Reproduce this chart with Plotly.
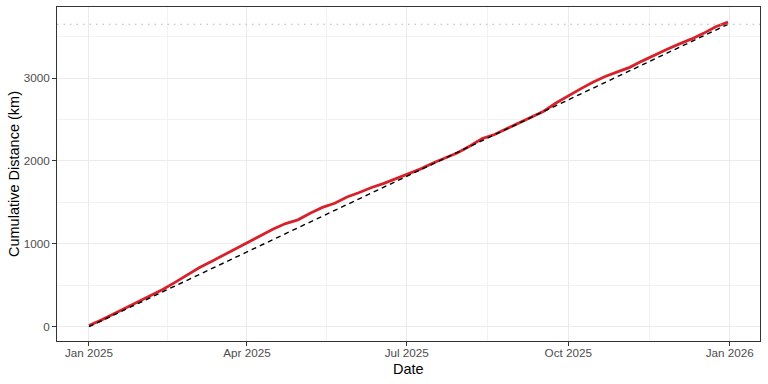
import plotly.graph_objects as go
import pandas as pd

# ---- data ----
day_offsets = [0, 7, 14, 21, 28, 35, 42, 49, 56, 63, 70, 77, 84, 91, 98, 105, 112, 119,
               126, 133, 140, 147, 154, 161, 168, 175, 182, 189, 196, 203, 210, 217,
               224, 231, 238, 245, 252, 259, 266, 273, 280, 287, 294, 301, 308, 315,
               322, 329, 336, 343, 350, 357, 364]
cumulative_km = [15, 80, 155, 230, 295, 375, 450, 535, 625, 715, 790, 870, 950, 1030,
                 1100, 1180, 1245, 1290, 1370, 1440, 1490, 1565, 1620, 1680, 1730, 1790,
                 1845, 1905, 1975, 2035, 2100, 2180, 2270, 2320, 2390, 2460, 2530, 2600,
                 2700, 2790, 2870, 2950, 3020, 3075, 3130, 3205, 3280, 3345, 3410, 3470,
                 3540, 3620, 3675]
target_dates = ["2025-01-01", "2025-12-31"]
target_km = [0, 3650]
goal_km = 3650

x_tick_vals = ["2025-01-01", "2025-04-01", "2025-07-01", "2025-10-01", "2026-01-01"]
x_tick_text = ["Jan 2025", "Apr 2025", "Jul 2025", "Oct 2025", "Jan 2026"]
x_minor_vals = ["2025-02-15", "2025-05-16 12:00", "2025-08-16", "2025-11-16"]
y_tick_vals = [0, 1000, 2000, 3000]
y_minor_vals = [500, 1500, 2500, 3500]

dates = pd.Timestamp("2025-01-01") + pd.to_timedelta(day_offsets, unit="D")

FONT = "Liberation Sans, Arial, Helvetica, sans-serif"

fig = go.Figure()
fig.add_trace(go.Scatter(x=dates, y=cumulative_km, mode="lines",
                         line=dict(color="#d7222c", width=2.8), showlegend=False))
fig.add_trace(go.Scatter(x=target_dates, y=target_km, mode="lines",
                         line=dict(color="black", width=1.4, dash="5px,4px"), showlegend=False))
fig.add_hline(y=goal_km, line=dict(color="#b5b5b5", width=1.1, dash="1.5px,5px"))

fig.update_layout(
    width=768, height=384,
    margin=dict(l=57, r=8, t=7, b=43),
    paper_bgcolor="white", plot_bgcolor="white",
    font=dict(family=FONT),
    xaxis=dict(
        type="date",
        range=["2024-12-13 19:12", "2026-01-18 04:48"],
        tickmode="array", tickvals=x_tick_vals, ticktext=x_tick_text,
        ticks="outside", ticklen=4, tickwidth=1, tickcolor="#333333",
        ticklabelstandoff=-3,
        tickfont=dict(size=11.7, color="#4d4d4d", family=FONT),
        showgrid=True, gridcolor="#ebebeb", gridwidth=1,
        minor=dict(tickvals=x_minor_vals, showgrid=True, gridcolor="#f2f2f2", gridwidth=0.6),
        showline=True, linecolor="#333333", linewidth=1, mirror=True,
        zeroline=False,
    ),
    yaxis=dict(
        range=[-172, 3858],
        tickmode="array", tickvals=y_tick_vals,
        ticks="outside", ticklen=4, tickwidth=1, tickcolor="#333333",
        tickfont=dict(size=11.7, color="#4d4d4d", family=FONT),
        showgrid=True, gridcolor="#ebebeb", gridwidth=1,
        minor=dict(tickvals=y_minor_vals, showgrid=True, gridcolor="#f2f2f2", gridwidth=0.6),
        showline=True, linecolor="#333333", linewidth=1, mirror=True,
        zeroline=False,
    ),
    annotations=[
        dict(text="Date", xref="paper", yref="paper", x=0.5, y=0, yanchor="middle",
             xanchor="center", yshift=-28, showarrow=False,
             font=dict(size=14.5, color="black", family=FONT)),
        dict(text="Cumulative Distance (km)", xref="paper", yref="paper", x=0, y=0.5,
             xanchor="center", yanchor="middle", xshift=-43, textangle=-90, showarrow=False,
             font=dict(size=14.5, color="black", family=FONT)),
    ],
)

fig.write_html("out.html")
